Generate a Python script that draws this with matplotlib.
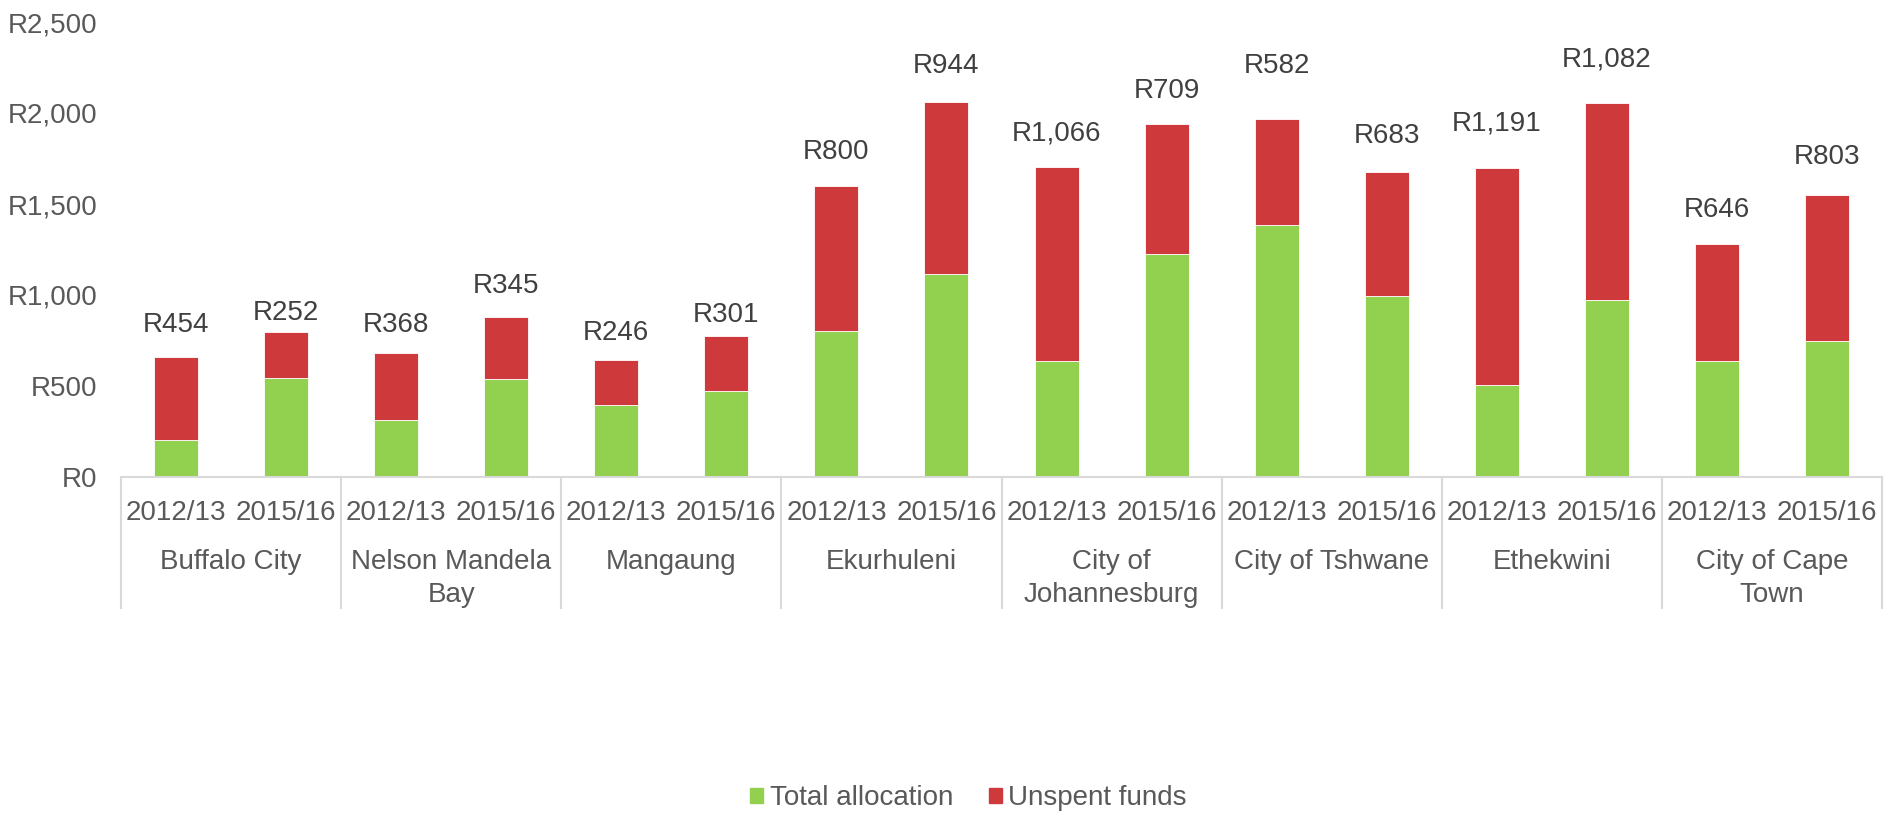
import numpy as np
import matplotlib.pyplot as plt
from matplotlib.patches import Patch

plt.rcParams['font.family'] = ['Liberation Sans', 'DejaVu Sans']

# Datos (millones de rand)
cities = ['Buffalo City', 'Nelson Mandela\nBay', 'Mangaung', 'Ekurhuleni',
          'City of\nJohannesburg', 'City of Tshwane', 'Ethekwini',
          'City of Cape\nTown']
years = ['2012/13', '2015/16']
allocation = [203, 544, 312, 536, 395, 474, 800, 1118,
              636, 1228, 1385, 994, 508, 973, 636, 748]
unspent = [454, 252, 368, 345, 246, 301, 800, 944,
           1066, 709, 582, 683, 1191, 1082, 646, 803]
yticks = [0, 500, 1000, 1500, 2000, 2500]

# desplazamiento vertical de las etiquetas (puntos)
label_dy = [23, 14, 20, 22, 20, 15, 24, 26, 24, 24, 38, 26, 32, 31, 24, 27]

GREEN = '#92D050'
RED = '#CE3A3B'
GRID = '#D9D9D9'
TXT = '#595959'

fig = plt.figure(figsize=(18.88, 8.14), dpi=100)
ax = fig.add_axes([121 / 1888, 1 - 477 / 814, (1882 - 121) / 1888, 455 / 814])

x = np.arange(len(allocation))
alloc = np.array(allocation)
unsp = np.array(unspent)
ax.bar(x, alloc, width=0.4, color=GREEN, edgecolor='white', linewidth=0.6)
ax.bar(x, unsp, width=0.4, bottom=alloc, color=RED, edgecolor='white', linewidth=0.6)

for i in range(len(x)):
    ax.annotate(f'R{unsp[i]:,}', (x[i], alloc[i] + unsp[i]), xytext=(0, label_dy[i]),
                textcoords='offset points', ha='center', va='center',
                fontsize=20, color='#404040')

ax.set_xlim(-0.5, len(x) - 0.5)
ax.set_ylim(0, 2500)
ax.set_yticks(yticks)
ax.set_yticklabels([f'R{v:,}' for v in yticks])
ax.tick_params(axis='y', length=0, labelsize=20, labelcolor=TXT, pad=17)
ax.set_xticks([])
for s in ['top', 'right', 'left']:
    ax.spines[s].set_visible(False)
ax.spines['bottom'].set_color(GRID)
ax.spines['bottom'].set_linewidth(1.5)

# etiquetas de categorias en dos niveles
tr = ax.get_xaxis_transform()
for i in range(len(x)):
    ax.text(x[i], -0.079, years[i % 2], transform=tr, ha='center', va='center',
            fontsize=20, color=TXT)
for g, name in enumerate(cities):
    ax.text(2 * g + 0.5, -0.158, name, transform=tr, ha='center', va='top',
            fontsize=20, color=TXT, linespacing=1.35)
for b in range(len(cities) + 1):
    ax.plot([2 * b - 0.5, 2 * b - 0.5], [0, -0.288], transform=tr, color=GRID,
            linewidth=1.5, clip_on=False)

handles = [Patch(color=GREEN, label='Total allocation'),
           Patch(color=RED, label='Unspent funds')]
leg = fig.legend(handles=handles, loc='center', bbox_to_anchor=(0.513, 1 - 798 / 814),
                 ncol=2, frameon=False, fontsize=20, handlelength=0.45, handleheight=0.45,
                 handletextpad=0.25, columnspacing=1.3)
for t in leg.get_texts():
    t.set_color(TXT)

plt.savefig('out.png', dpi=100)
